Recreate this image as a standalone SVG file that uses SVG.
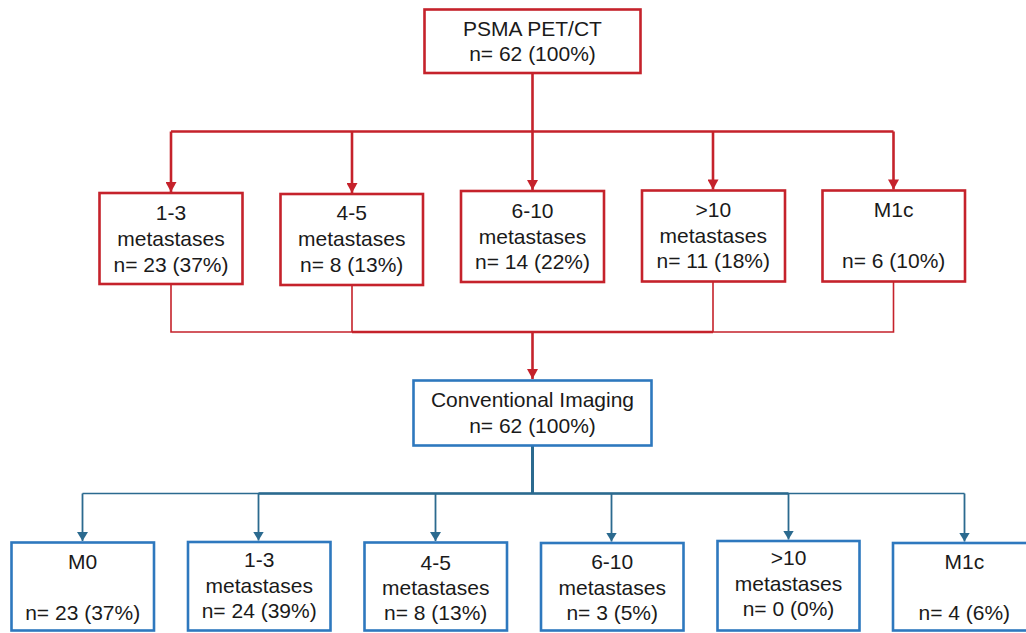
<svg xmlns="http://www.w3.org/2000/svg" width="1026" height="633" viewBox="0 0 1026 633">
<defs>
<style>
.rb{fill:#fff;stroke:#C5222B;stroke-width:2.6}
.bb{fill:#fff;stroke:#2E78BE;stroke-width:2.6}
text{font-family:"Liberation Sans",Arial,sans-serif;font-size:21px;fill:#1a1a1a;text-anchor:middle}
.rl{stroke:#C5222B;fill:none}
.bl{stroke:#2B6A8F;fill:none}
</style>
<marker id="ar" markerUnits="userSpaceOnUse" markerWidth="11" markerHeight="11" refX="10" refY="5.5" orient="auto" viewBox="0 0 10 11">
<path d="M0,0 L10,5.5 L0,11 z" fill="#C5222B"/>
</marker>
<marker id="ab" markerUnits="userSpaceOnUse" markerWidth="9" markerHeight="11" refX="9" refY="5.5" orient="auto" viewBox="0 0 9 11">
<path d="M0,0 L9,5.5 L0,11 z" fill="#2B6A8F"/>
</marker>
</defs>
<rect width="1026" height="633" fill="#fff"/>
<g id="connectors">
<path class="rl" stroke-width="2.6" d="M532.5,73 V131.5 M171,131.5 H893.5"/>
<line class="rl" stroke-width="2.6" x1="171" y1="131.5" x2="171" y2="192" marker-end="url(#ar)"/>
<line class="rl" stroke-width="2.6" x1="352" y1="131.5" x2="352" y2="193" marker-end="url(#ar)"/>
<line class="rl" stroke-width="2.6" x1="532.5" y1="131.5" x2="532.5" y2="190" marker-end="url(#ar)"/>
<line class="rl" stroke-width="2.6" x1="713" y1="131.5" x2="713" y2="189.5" marker-end="url(#ar)"/>
<line class="rl" stroke-width="2.6" x1="893.5" y1="131.5" x2="893.5" y2="189.5" marker-end="url(#ar)"/>
<path class="rl" stroke-width="1.6" d="M171,284 V332 H893.5 V282 M352,285 V332 M713,282 V332"/>
<path class="rl" stroke-width="2.4" d="M352,332 H713"/>
<line class="rl" stroke-width="2.6" x1="532.5" y1="332" x2="532.5" y2="379" marker-end="url(#ar)"/>
<path class="bl" stroke-width="3" d="M532.5,446 V493.5"/>
<path class="bl" stroke-width="1.6" d="M82.5,493.5 H964.5"/>
<path class="bl" stroke-width="2.6" d="M258.5,493.5 H788.5"/>
<line class="bl" stroke-width="1.8" x1="82.5" y1="493.5" x2="82.5" y2="541" marker-end="url(#ab)"/>
<line class="bl" stroke-width="1.8" x1="258.5" y1="493.5" x2="258.5" y2="540.5" marker-end="url(#ab)"/>
<line class="bl" stroke-width="1.8" x1="435.5" y1="493.5" x2="435.5" y2="541" marker-end="url(#ab)"/>
<line class="bl" stroke-width="1.8" x1="611.5" y1="493.5" x2="611.5" y2="541.5" marker-end="url(#ab)"/>
<line class="bl" stroke-width="1.8" x1="788.5" y1="493.5" x2="788.5" y2="539.5" marker-end="url(#ab)"/>
<line class="bl" stroke-width="1.8" x1="964.5" y1="493.5" x2="964.5" y2="541.5" marker-end="url(#ab)"/>
</g>
<g id="psma">
<rect class="rb" x="424.5" y="9.5" width="216" height="63.5"/>
<text x="532.5" y="36">PSMA PET/CT</text>
<text x="532.5" y="61">n= 62 (100%)</text>
</g>
<g id="p13">
<rect class="rb" x="99.5" y="193" width="143" height="91"/>
<text x="171" y="220">1-3</text>
<text x="171" y="246">metastases</text>
<text x="171" y="271.5">n= 23 (37%)</text>
</g>
<g id="p45">
<rect class="rb" x="280.5" y="194" width="142.5" height="91"/>
<text x="351.7" y="220">4-5</text>
<text x="351.7" y="246">metastases</text>
<text x="351.7" y="271.5">n= 8 (13%)</text>
</g>
<g id="p610">
<rect class="rb" x="461" y="191" width="143" height="91"/>
<text x="532.5" y="218">6-10</text>
<text x="532.5" y="243.5">metastases</text>
<text x="532.5" y="269">n= 14 (22%)</text>
</g>
<g id="p10">
<rect class="rb" x="642" y="190.5" width="143" height="91"/>
<text x="713.3" y="216.7">&gt;10</text>
<text x="713.3" y="242.7">metastases</text>
<text x="713.3" y="268.3">n= 11 (18%)</text>
</g>
<g id="pm1c">
<rect class="rb" x="822.5" y="190.5" width="142.5" height="91"/>
<text x="893.7" y="216.7">M1c</text>
<text x="893.7" y="268.3">n= 6 (10%)</text>
</g>
<g id="ci">
<rect class="bb" x="413.5" y="380.5" width="238" height="65"/>
<text x="532.5" y="407.3">Conventional Imaging</text>
<text x="532.5" y="432.7">n= 62 (100%)</text>
</g>
<g id="cm0">
<rect class="bb" x="11.5" y="542.5" width="142.5" height="88"/>
<text x="82.7" y="569">M0</text>
<text x="82.7" y="620">n= 23 (37%)</text>
</g>
<g id="c13">
<rect class="bb" x="188" y="542" width="142.5" height="88.5"/>
<text x="259.2" y="567.3">1-3</text>
<text x="259.2" y="592.7">metastases</text>
<text x="259.2" y="618.3">n= 24 (39%)</text>
</g>
<g id="c45">
<rect class="bb" x="364.5" y="542.5" width="142.5" height="88"/>
<text x="435.7" y="570">4-5</text>
<text x="435.7" y="595">metastases</text>
<text x="435.7" y="620">n= 8 (13%)</text>
</g>
<g id="c610">
<rect class="bb" x="541" y="543" width="142.5" height="87.5"/>
<text x="612.2" y="569.3">6-10</text>
<text x="612.2" y="595">metastases</text>
<text x="612.2" y="620">n= 3 (5%)</text>
</g>
<g id="c10">
<rect class="bb" x="717.5" y="541" width="142" height="89.5"/>
<text x="788.5" y="565.3">&gt;10</text>
<text x="788.5" y="590.7">metastases</text>
<text x="788.5" y="616">n= 0 (0%)</text>
</g>
<g id="cm1c">
<rect class="bb" x="893" y="543" width="142.5" height="87.5"/>
<text x="964.3" y="569">M1c</text>
<text x="964.3" y="620">n= 4 (6%)</text>
</g>
</svg>
